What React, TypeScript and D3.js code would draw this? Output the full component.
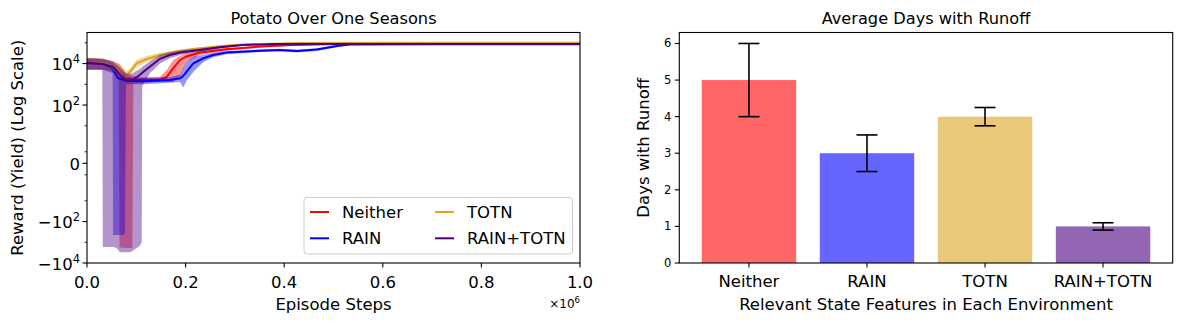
import React from 'react';
import * as d3 from 'd3';

// ---------- Left panel data (x in millions of steps) ----------
const seriesNames = ['Neither', 'RAIN', 'TOTN', 'RAIN+TOTN'];
const lineColors = ['#ff0000', '#0000ff', '#daa520', '#4b0082'];

const neitherSteps = [0, 0.02, 0.047, 0.064, 0.066, 0.067, 0.08, 0.092, 0.094, 0.107, 0.148, 0.162, 0.175, 0.189, 0.202, 0.229, 0.283, 0.351, 0.418, 0.487, 0.6, 0.8, 1.0];
const neitherMean = [1.25e4, 1.2e4, 8.6e3, 5.6e3, 5.2e3, 4.9e3, 1.95e3, 1.7e3, 1.65e3, 1.6e3, 1.7e3, 2.3e3, 6e3, 1.5e4, 2.2e4, 3.4e4, 4.95e4, 6.6e4, 7.9e4, 8.6e4, 9.0e4, 9.2e4, 9.2e4];
const neitherLow = [5.5e3, 5.5e3, 4.5e3, 3e3, -1.7e3, -1.8e3, -1.9e3, -1.9e3, 1.1e3, 1.2e3, 1.3e3, 1.3e3, 1.3e3, 2.5e3, 1.2e4, 2.6e4, 4.2e4, 6e4, 7.4e4, 8.2e4, 8.6e4, 8.8e4, 8.8e4];
const neitherHigh = [1.9e4, 1.8e4, 1.4e4, 1e4, 9.5e3, 9e3, 3.2e3, 2.6e3, 2.5e3, 2.2e3, 2.3e3, 5e3, 1.5e4, 2.4e4, 3.1e4, 4.3e4, 5.7e4, 7.2e4, 8.4e4, 9.0e4, 9.4e4, 9.6e4, 9.6e4];

const rainSteps = [0, 0.033, 0.052, 0.053, 0.063, 0.074, 0.077, 0.079, 0.114, 0.168, 0.189, 0.195, 0.202, 0.216, 0.236, 0.256, 0.283, 0.351, 0.391, 0.426, 0.466, 0.507, 0.533, 0.7, 1.0];
const rainMean = [1.04e4, 9.4e3, 5.2e3, 4.9e3, 2e3, 1.6e3, 1.55e3, 1.5e3, 1.4e3, 1.6e3, 1.95e3, 2.5e3, 4.1e3, 1.04e4, 1.8e4, 2.6e4, 3.4e4, 4.2e4, 4.5e4, 4.0e4, 4.8e4, 7.1e4, 8.4e4, 8.5e4, 8.5e4];
const rainLow = [5e3, 5e3, 3.5e3, -450, -450, -450, -400, 1.0e3, 1.0e3, 1.2e3, 1.3e3, 700, 1.5e3, 4e3, 1.2e4, 2.0e4, 2.8e4, 3.6e4, 3.9e4, 3.4e4, 4.1e4, 6.2e4, 8e4, 8.2e4, 8.2e4];
const rainHigh = [1.7e4, 1.6e4, 1.1e4, 1e4, 4.5e3, 2.4e3, 2.3e3, 2.2e3, 2e3, 2.2e3, 3e3, 6e3, 1.2e4, 2.2e4, 2.6e4, 3.3e4, 4e4, 4.8e4, 5.2e4, 4.7e4, 5.5e4, 7.8e4, 8.8e4, 8.8e4, 8.8e4];

const totnSteps = [0, 0.032, 0.053, 0.067, 0.08, 0.087, 0.101, 0.121, 0.148, 0.182, 0.215, 0.249, 0.296, 0.351, 0.432, 0.6, 1.0];
const totnMean = [1.15e4, 1.1e4, 7.8e3, 4.9e3, 2.8e3, 3.9e3, 1.04e4, 1.65e4, 2.6e4, 3.8e4, 5e4, 6.1e4, 7.9e4, 8.9e4, 9.9e4, 1.0e5, 1.02e5];
const totnLow = [6e3, 6e3, 4.5e3, 3e3, 1.8e3, 2.6e3, 6.5e3, 1.15e4, 2.0e4, 3.2e4, 4.4e4, 5.5e4, 7.3e4, 8.5e4, 9.5e4, 9.7e4, 9.8e4];
const totnHigh = [1.9e4, 1.8e4, 1.2e4, 8e3, 4.3e3, 6e3, 1.55e4, 2.3e4, 3.3e4, 4.5e4, 5.6e4, 6.7e4, 8.5e4, 9.4e4, 1.03e5, 1.04e5, 1.06e5];

const bothSteps = [0, 0.031, 0.032, 0.053, 0.06, 0.067, 0.08, 0.087, 0.093, 0.097, 0.107, 0.111, 0.112, 0.128, 0.148, 0.168, 0.189, 0.229, 0.27, 0.316, 0.385, 0.6, 1.0];
const bothMean = [1.1e4, 9.6e3, 9.5e3, 6.9e3, 4.5e3, 2.8e3, 1.4e3, 1.45e3, 1.6e3, 1.9e3, 2.8e3, 3.4e3, 3.6e3, 7.3e3, 1.7e4, 2.6e4, 3.4e4, 4.55e4, 6.2e4, 7.9e4, 8.9e4, 8.9e4, 8.8e4];
const bothLow = [5e3, 5e3, -1.7e3, -1.7e3, -1.9e3, -3.0e3, -3.0e3, -3.0e3, -2.6e3, -2.2e3, -1.5e3, -1.0e3, 800, 3.5e3, 1.0e4, 1.8e4, 2.6e4, 3.8e4, 5.4e4, 7.2e4, 8.4e4, 8.5e4, 8.4e4];
const bothHigh = [1.8e4, 1.7e4, 1.7e4, 1.3e4, 9e3, 6.5e3, 3.3e3, 3.2e3, 3.4e3, 4e3, 5.5e3, 6.5e3, 7e3, 1.3e4, 2.6e4, 3.5e4, 4.3e4, 5.4e4, 7e4, 8.6e4, 9.4e4, 9.3e4, 9.2e4];

const xTicks = [0, 0.2, 0.4, 0.6, 0.8, 1.0];
const yMajorTicks = [1e4, 1e2, 0, -1e2, -1e4];
const yMajorLabels = [['10', '4'], ['10', '2'], ['0', ''], ['\u221210', '2'], ['\u221210', '4']];
const yMinorTicks = [1e5, 1e3, 10, 1, -1, -10, -1e3];

// ---------- Right panel data ----------
const barCategories = ['Neither', 'RAIN', 'TOTN', 'RAIN+TOTN'];
const barValues = [5, 3, 4, 1];
const barErrLow = [4, 2.5, 3.75, 0.9];
const barErrHigh = [6, 3.5, 4.25, 1.1];
const barTicks = [0, 1, 2, 3, 4, 5, 6];

const FONT = 'DejaVu Sans, sans-serif';

// matplotlib symlog (linthresh=2, base 10, linscale 1)
const symT = (v: number) => {
  const c = 1 / (1 - 1 / 10);
  const a = Math.abs(v);
  return a <= 2 ? v * c : Math.sign(v) * 2 * (c + Math.log10(a / 2));
};

export default function App() {
  const L = { x0: 87, x1: 580, y0: 32.5, y1: 263 };
  const R = { x0: 679.3, x1: 1172.7, y0: 32.5, y1: 263 };

  const x = d3.scaleLinear().domain([0, 1]).range([L.x0, L.x1]);
  const yLin = d3.scaleLinear().domain([symT(-1e4), symT(3.16e5)]).range([L.y1, L.y0]);
  const y = (v: number) => yLin(symT(v));

  const series = [
    { steps: neitherSteps, mean: neitherMean, low: neitherLow, high: neitherHigh },
    { steps: rainSteps, mean: rainMean, low: rainLow, high: rainHigh },
    { steps: totnSteps, mean: totnMean, low: totnLow, high: totnHigh },
    { steps: bothSteps, mean: bothMean, low: bothLow, high: bothHigh },
  ];

  const bx = d3.scaleLinear().domain([-0.59, 3.59]).range([R.x0, R.x1]);
  const by = d3.scaleLinear().domain([0, 6.3]).range([R.y1, R.y0]);
  const barW = bx(0.8) - bx(0);
  const barColors = lineColors;

  return (
    <svg width={1182} height={324} style={{ position: 'absolute', left: 0, top: 0, background: '#fff' }} fontFamily={FONT}>
      <defs>
        <clipPath id="clipL">
          <rect x={L.x0} y={L.y0} width={L.x1 - L.x0} height={L.y1 - L.y0} />
        </clipPath>
      </defs>
      <rect x={0} y={0} width={1182} height={324} fill="#fff" />

      {/* ---- Left panel ---- */}
      <g clipPath="url(#clipL)">
        {series.map((s, si) => {
          const area = d3.area<number>()
            .x((_, i) => x(s.steps[i]))
            .y0((_, i) => y(s.low[i]))
            .y1((_, i) => y(s.high[i]));
          const line = d3.line<number>()
            .x((_, i) => x(s.steps[i]))
            .y((d) => y(d));
          return (
            <g key={si}>
              <path d={area(s.mean) || ''} fill={lineColors[si]} fillOpacity={0.42} stroke="none" />
              <path d={line(s.mean) || ''} fill="none" stroke={lineColors[si]} strokeWidth={2} />
            </g>
          );
        })}
      </g>
      <rect x={L.x0} y={L.y0} width={L.x1 - L.x0} height={L.y1 - L.y0} fill="none" stroke="#000" strokeWidth={1.1} />
      {xTicks.map((t) => (
        <g key={t}>
          <line x1={x(t)} x2={x(t)} y1={L.y1} y2={L.y1 + 4.5} stroke="#000" strokeWidth={1.1} />
          <text x={x(t)} y={287.5} textAnchor="middle" fontSize={16.5}>{t.toFixed(1)}</text>
        </g>
      ))}
      <text x={L.x1} y={308} textAnchor="end" fontSize={12}>
        <tspan>×10</tspan>
        <tspan dy={-5} fontSize={8.5}>6</tspan>
      </text>
      {yMajorTicks.map((t, i) => (
        <g key={t}>
          <line x1={L.x0 - 4.5} x2={L.x0} y1={y(t)} y2={y(t)} stroke="#000" strokeWidth={1.1} />
          <text x={L.x0 - 7} y={y(t) + 6.5} textAnchor="end" fontSize={16.5}>
            <tspan>{yMajorLabels[i][0]}</tspan>
            {yMajorLabels[i][1] ? <tspan dy={-7} fontSize={11.5}>{yMajorLabels[i][1]}</tspan> : null}
          </text>
        </g>
      ))}
      {yMinorTicks.map((t) => (
        <line key={t} x1={L.x0 - 2.5} x2={L.x0} y1={y(t)} y2={y(t)} stroke="#000" strokeWidth={0.8} />
      ))}
      <text x={(L.x0 + L.x1) / 2} y={24} textAnchor="middle" fontSize={16.2}>Potato Over One Seasons</text>
      <text x={(L.x0 + L.x1) / 2} y={310} textAnchor="middle" fontSize={16.5}>Episode Steps</text>
      <text transform={`translate(22.5,${(L.y0 + L.y1) / 2}) rotate(-90)`} textAnchor="middle" fontSize={16.5}>Reward (Yield) (Log Scale)</text>

      {/* Legend */}
      <rect x={304} y={197.5} width={268.5} height={56.5} rx={3} fill="#fff" fillOpacity={0.8} stroke="#cccccc" strokeWidth={1} />
      {seriesNames.map((n, i) => {
        const col = Math.floor(i / 2);
        const row = i % 2;
        const hx = col === 0 ? 310 : 435;
        const ty = row === 0 ? 218.3 : 244.3;
        const ly = row === 0 ? 212 : 238.3;
        return (
          <g key={n}>
            <line x1={hx} x2={hx + 19} y1={ly} y2={ly} stroke={lineColors[i]} strokeWidth={2} />
            <text x={hx + 32} y={ty} fontSize={16.5}>{n}</text>
          </g>
        );
      })}

      {/* ---- Right panel ---- */}
      {barValues.map((v, i) => (
        <rect key={i} x={bx(i) - barW / 2} y={by(v)} width={barW} height={by(0) - by(v)} fill={barColors[i]} fillOpacity={0.6} />
      ))}
      {barValues.map((_, i) => (
        <g key={'e' + i} stroke="#000" strokeWidth={1.6}>
          <line x1={bx(i)} x2={bx(i)} y1={by(barErrLow[i])} y2={by(barErrHigh[i])} />
          <line x1={bx(i) - 10.5} x2={bx(i) + 10.5} y1={by(barErrLow[i])} y2={by(barErrLow[i])} />
          <line x1={bx(i) - 10.5} x2={bx(i) + 10.5} y1={by(barErrHigh[i])} y2={by(barErrHigh[i])} />
        </g>
      ))}
      <rect x={R.x0} y={R.y0} width={R.x1 - R.x0} height={R.y1 - R.y0} fill="none" stroke="#000" strokeWidth={1.1} />
      {barTicks.map((t) => (
        <g key={t}>
          <line x1={R.x0 - 4.5} x2={R.x0} y1={by(t)} y2={by(t)} stroke="#000" strokeWidth={1.1} />
          <text x={R.x0 - 8} y={by(t) + 4} textAnchor="end" fontSize={11.5}>{t}</text>
        </g>
      ))}
      {barCategories.map((c, i) => (
        <g key={c}>
          <line x1={bx(i)} x2={bx(i)} y1={R.y1} y2={R.y1 + 4.5} stroke="#000" strokeWidth={1.1} />
          <text x={bx(i)} y={287.3} textAnchor="middle" fontSize={16.5}>{c}</text>
        </g>
      ))}
      <text x={(R.x0 + R.x1) / 2} y={24} textAnchor="middle" fontSize={16.2}>Average Days with Runoff</text>
      <text x={(R.x0 + R.x1) / 2} y={310} textAnchor="middle" fontSize={16.5}>Relevant State Features in Each Environment</text>
      <text transform={`translate(649,${(R.y0 + R.y1) / 2}) rotate(-90)`} textAnchor="middle" fontSize={16.5}>Days with Runoff</text>
    </svg>
  );
}
